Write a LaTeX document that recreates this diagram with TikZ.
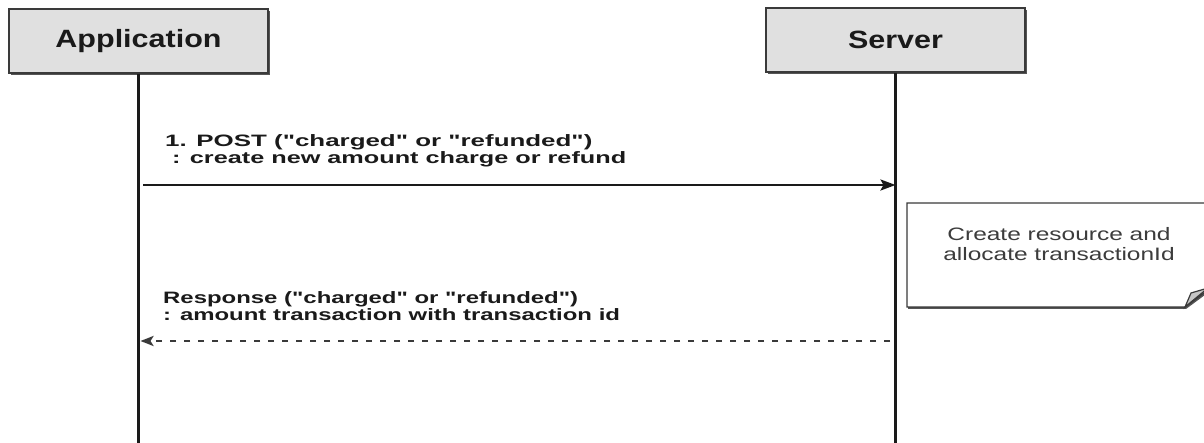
\documentclass[tikz,border=0pt]{standalone}
\usepackage{fontspec}
\setmainfont{Liberation Sans}
\usetikzlibrary{arrows.meta,shadows}
\definecolor{boxfill}{HTML}{E0E0E0}
\definecolor{edge}{HTML}{3A3A3A}
\definecolor{shade}{HTML}{555555}
\definecolor{txt}{HTML}{1A1A1A}
\newcommand\wideText[2][1.22]{\scalebox{#1}[1]{#2}}
\newcommand\qq{\textquotedbl}
\begin{document}
\begin{tikzpicture}[x=1pt,y=-1pt,
  actor/.style={draw=edge, line width=1.6pt, fill=boxfill, minimum width=259pt, minimum height=64pt, inner sep=0pt,
    font=\fontsize{25}{30}\selectfont\bfseries, text=txt,
    drop shadow={shadow xshift=2pt, shadow yshift=-2.5pt, fill=shade, opacity=1}},
  lifeline/.style={draw=txt, line width=2.4pt},
  msg/.style={draw=txt, line width=2.4pt, -{Stealth[length=15pt,width=11pt,inset=3pt]}},
  reply/.style={draw=edge, line width=2.6pt, dash pattern=on 6pt off 8pt, -{Stealth[length=13pt,width=10pt,inset=3pt]}},
  lbl/.style={anchor=base west, inner sep=0pt, font=\fontsize{16.5}{17}\selectfont\bfseries, text=txt},
  notebox/.style={draw=edge, line width=1.4pt, fill=white},
  notetext/.style={align=center, inner sep=0pt, font=\fontsize{18}{20}\selectfont, text=txt!85}]
\useasboundingbox (0,0) rectangle (1204,443);

% actors
\node[actor] (app) at (138.5,41) {\wideText{Application}};
\node[actor] (srv) at (895.5,40) {\wideText{Server}};

% lifelines
\coordinate (bot) at (0,446);
\draw[lifeline] (app.south) -- (app.south |- bot);
\draw[lifeline] (srv.south) -- (srv.south |- bot);

% note
\path[notebox, drop shadow={shadow xshift=1pt, shadow yshift=-2pt, fill=shade, opacity=1}]
  (907,203) -- (1212,203) -- (1212,287) -- (1185,307) -- (907,307) -- cycle;
\path[draw=edge, line width=1.2pt, fill=gray!45] (1185,307) -- (1191,293) -- (1208,288) -- cycle;
\node[notetext] (note) at (1059,244) {\wideText[1.36]{Create resource and}\\[0pt]\wideText[1.36]{allocate transactionId}};

% message 1
\coordinate (m1s) at (143,185);
\coordinate (m1e) at (srv.south |- m1s);
\draw[msg] (m1s) -- (m1e);
\node[lbl] (m1a) at (165,146.5) {\wideText[1.57]{1. POST (\qq charged\qq{} or \qq refunded\qq)}};
\node[lbl] (m1b) at (172,164) {\wideText[1.53]{: create new amount charge or refund}};

% response
\coordinate (m2s) at (890,341);
\coordinate (m2e) at (app.south |- m2s);
\draw[reply] (m2s) -- ([xshift=2pt]m2e);
\node[lbl] (m2a) at (163,303.5) {\wideText[1.45]{Response (\qq charged\qq{} or \qq refunded\qq)}};
\node[lbl] (m2b) at (163,321) {\wideText[1.45]{: amount transaction with transaction id}};
\end{tikzpicture}
\end{document}
